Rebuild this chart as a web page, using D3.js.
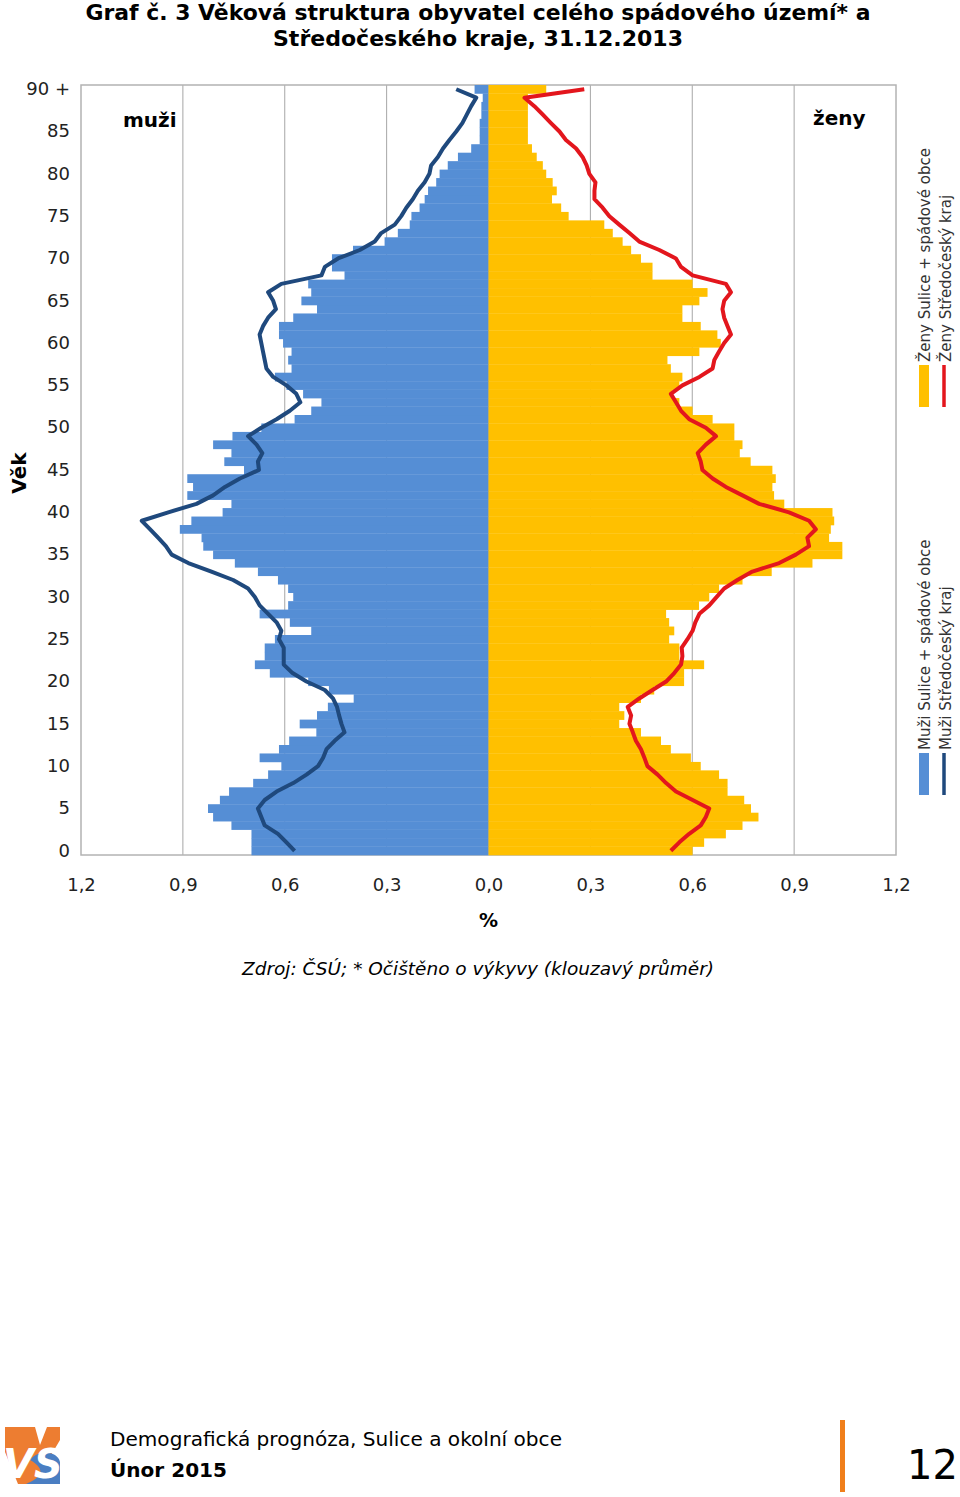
<!DOCTYPE html>
<html>
<head>
<meta charset="utf-8">
<script src="https://cdn.jsdelivr.net/npm/d3@7/dist/d3.min.js"></script>
<style>
  html, body { margin: 0; padding: 0; background: #fff; }
  svg { display: block; }
</style>
</head>
<body>
<div id="chart"></div>
<script>
(function(window, d3){
  'use strict';

  // věk 0 .. 90+ (index = věk)
  var ages = d3.range(0, 91);

  // muži Sulice + spádové obce (%)
  var menBars = [
    0.698, 0.698, 0.698, 0.757, 0.811, 0.826, 0.791, 0.764, 0.693, 0.649,
    0.610, 0.674, 0.617, 0.587, 0.507, 0.556, 0.505, 0.473, 0.397, 0.470,
    0.531, 0.644, 0.688, 0.659, 0.659, 0.629, 0.522, 0.585, 0.674, 0.590,
    0.575, 0.590, 0.620, 0.679, 0.747, 0.811, 0.840, 0.845, 0.909, 0.875,
    0.783, 0.757, 0.887, 0.870, 0.887, 0.720, 0.778, 0.757, 0.811, 0.754,
    0.669, 0.571, 0.522, 0.492, 0.546, 0.595, 0.629, 0.580, 0.590, 0.580,
    0.605, 0.617, 0.617, 0.575, 0.505, 0.551, 0.522, 0.531, 0.424, 0.461,
    0.461, 0.399, 0.306, 0.267, 0.232, 0.227, 0.203, 0.188, 0.178, 0.154,
    0.144, 0.120, 0.090, 0.051, 0.026, 0.026, 0.026, 0.021, 0.021, 0.017,
    0.041
  ];

  // muži Středočeský kraj (%)
  var menLine = [
    0.571, 0.595, 0.620, 0.659, 0.669, 0.679, 0.659, 0.624, 0.575, 0.536,
    0.502, 0.487, 0.477, 0.453, 0.424, 0.433, 0.440, 0.446, 0.458, 0.482,
    0.536, 0.577, 0.603, 0.603, 0.603, 0.617, 0.610, 0.624, 0.649, 0.674,
    0.688, 0.708, 0.752, 0.816, 0.884, 0.933, 0.950, 0.973, 0.997, 1.021,
    0.943, 0.860, 0.811, 0.776, 0.732, 0.676, 0.679, 0.666, 0.683, 0.708,
    0.669, 0.624, 0.585, 0.554, 0.566, 0.595, 0.634, 0.654, 0.659, 0.664,
    0.669, 0.674, 0.664, 0.649, 0.626, 0.634, 0.649, 0.610, 0.492, 0.482,
    0.443, 0.379, 0.335, 0.316, 0.276, 0.257, 0.242, 0.223, 0.208, 0.188,
    0.174, 0.169, 0.149, 0.134, 0.115, 0.095, 0.077, 0.064, 0.051, 0.036,
    0.095
  ];

  // ženy Sulice + spádové obce (%)
  var womenBars = [
    0.601, 0.635, 0.699, 0.748, 0.795, 0.773, 0.753, 0.704, 0.704, 0.679,
    0.625, 0.596, 0.537, 0.508, 0.449, 0.385, 0.400, 0.385, 0.449, 0.488,
    0.576, 0.576, 0.635, 0.562, 0.562, 0.532, 0.547, 0.532, 0.523, 0.620,
    0.650, 0.679, 0.748, 0.834, 0.954, 1.042, 1.042, 1.003, 1.008, 1.018,
    1.013, 0.871, 0.841, 0.836, 0.846, 0.836, 0.772, 0.740, 0.748, 0.724,
    0.724, 0.660, 0.601, 0.562, 0.542, 0.562, 0.571, 0.537, 0.527, 0.621,
    0.684, 0.674, 0.625, 0.571, 0.571, 0.621, 0.645, 0.601, 0.483, 0.483,
    0.449, 0.420, 0.395, 0.366, 0.341, 0.236, 0.214, 0.187, 0.201, 0.189,
    0.170, 0.160, 0.142, 0.128, 0.116, 0.116, 0.116, 0.116, 0.116, 0.116,
    0.170
  ];

  // ženy Středočeský kraj (%)
  var womenLine = [
    0.537, 0.562, 0.591, 0.625, 0.640, 0.650, 0.601, 0.552, 0.523, 0.498,
    0.468, 0.459, 0.449, 0.434, 0.425, 0.415, 0.420, 0.410, 0.444, 0.483,
    0.523, 0.547, 0.567, 0.571, 0.569, 0.586, 0.601, 0.609, 0.621, 0.650,
    0.672, 0.694, 0.733, 0.777, 0.856, 0.905, 0.944, 0.939, 0.964, 0.944,
    0.885, 0.797, 0.748, 0.699, 0.660, 0.630, 0.625, 0.616, 0.640, 0.670,
    0.640, 0.591, 0.567, 0.552, 0.537, 0.571, 0.621, 0.660, 0.665, 0.679,
    0.694, 0.714, 0.704, 0.694, 0.689, 0.694, 0.714, 0.699, 0.601, 0.567,
    0.552, 0.503, 0.444, 0.415, 0.385, 0.356, 0.336, 0.312, 0.312, 0.315,
    0.297, 0.289, 0.277, 0.258, 0.228, 0.209, 0.184, 0.160, 0.135, 0.106,
    0.282
  ];

  var xTicks = [-1.2, -0.9, -0.6, -0.3, 0, 0.3, 0.6, 0.9, 1.2];
  var yTicks = d3.range(0, 91, 5);

  var legendItems = [
    { label: 'Ženy Sulice + spádové obce', type: 'rect', color: '#FFC000', x: 930, y: 407 },
    { label: 'Ženy Středočeský kraj', type: 'line', color: '#E3161D', x: 951, y: 407 },
    { label: 'Muži Sulice + spádové obce', type: 'rect', color: '#558ED5', x: 930, y: 795 },
    { label: 'Muži Středočeský kraj', type: 'line', color: '#1F497D', x: 951, y: 795 }
  ];

  var font = 'DejaVu Sans, Verdana, sans-serif';
  var plot = { left: 81, right: 896, top: 85, bottom: 855 };

  var svg = d3.select('#chart').append('svg')
    .attr('width', 960)
    .attr('height', 1497)
    .style('font-family', font);

  svg.append('rect').attr('width', 960).attr('height', 1497).attr('fill', '#fff');

  // nadpis
  var title = svg.append('g').attr('font-weight', 'bold').attr('text-anchor', 'middle');
  title.append('text').attr('x', 478).attr('y', 20).attr('font-size', 21)
    .attr('textLength', 785).attr('lengthAdjust', 'spacingAndGlyphs')
    .text('Graf č. 3 Věková struktura obyvatel celého spádového území* a');
  title.append('text').attr('x', 478).attr('y', 46).attr('font-size', 21)
    .attr('textLength', 410).attr('lengthAdjust', 'spacingAndGlyphs')
    .text('Středočeského kraje, 31.12.2013');

  var x = d3.scaleLinear().domain([-1.2, 1.2]).range([plot.left, plot.right]);
  var y = d3.scaleBand().domain(ages).range([plot.bottom, plot.top]).padding(0);
  var bw = y.bandwidth();

  // mřížka
  svg.append('g').selectAll('line')
    .data(xTicks.slice(1, -1))
    .enter().append('line')
    .attr('x1', function(d) { return x(d); })
    .attr('x2', function(d) { return x(d); })
    .attr('y1', plot.top)
    .attr('y2', plot.bottom)
    .attr('stroke', '#a6a6a6')
    .attr('stroke-width', 1);

  svg.append('rect')
    .attr('x', plot.left).attr('y', plot.top)
    .attr('width', plot.right - plot.left).attr('height', plot.bottom - plot.top)
    .attr('fill', 'none').attr('stroke', '#b3b3b3').attr('stroke-width', 1.5);

  // sloupce
  svg.append('g').selectAll('rect')
    .data(ages)
    .enter().append('rect')
    .attr('x', function(d) { return x(-menBars[d]); })
    .attr('y', function(d) { return y(d); })
    .attr('width', function(d) { return x(0) - x(-menBars[d]); })
    .attr('height', bw + 0.3)
    .attr('fill', '#558ED5');

  svg.append('g').selectAll('rect')
    .data(ages)
    .enter().append('rect')
    .attr('x', x(0))
    .attr('y', function(d) { return y(d); })
    .attr('width', function(d) { return x(womenBars[d]) - x(0); })
    .attr('height', bw + 0.3)
    .attr('fill', '#FFC000');

  // čáry kraje
  var menPath = d3.line()
    .x(function(d) { return x(-menLine[d]); })
    .y(function(d) { return y(d) + bw / 2; });
  var womenPath = d3.line()
    .x(function(d) { return x(womenLine[d]); })
    .y(function(d) { return y(d) + bw / 2; });

  svg.append('path').datum(ages)
    .attr('d', menPath)
    .attr('fill', 'none').attr('stroke', '#1F497D')
    .attr('stroke-width', 4).attr('stroke-linejoin', 'round');
  svg.append('path').datum(ages)
    .attr('d', womenPath)
    .attr('fill', 'none').attr('stroke', '#E3161D')
    .attr('stroke-width', 4).attr('stroke-linejoin', 'round');

  // osy
  var xAxis = d3.axisBottom(x)
    .tickValues(xTicks)
    .tickSize(0)
    .tickPadding(23)
    .tickFormat(function(d) { return Math.abs(d).toFixed(1).replace('.', ','); });
  var gx = svg.append('g').attr('transform', 'translate(0,' + plot.bottom + ')').call(xAxis);
  gx.select('.domain').remove();
  gx.selectAll('text').attr('font-size', 18).attr('font-family', font).attr('fill', '#222');

  var yAxis = d3.axisLeft(y)
    .tickValues(yTicks)
    .tickSize(0)
    .tickPadding(11)
    .tickFormat(function(d) { return d === 90 ? '90 +' : d; });
  var gy = svg.append('g').attr('transform', 'translate(' + plot.left + ',0)').call(yAxis);
  gy.select('.domain').remove();
  gy.selectAll('text').attr('font-size', 18).attr('font-family', font).attr('fill', '#222');

  svg.append('text')
    .attr('transform', 'translate(26,473) rotate(-90)')
    .attr('text-anchor', 'middle')
    .attr('font-size', 20).attr('font-weight', 'bold')
    .text('Věk');

  svg.append('text')
    .attr('x', x(0)).attr('y', 927)
    .attr('text-anchor', 'middle')
    .attr('font-size', 19).attr('font-weight', 'bold')
    .text('%');

  svg.append('text').attr('x', 123).attr('y', 127)
    .attr('font-size', 20).attr('font-weight', 'bold').text('muži');
  svg.append('text').attr('x', 813).attr('y', 125)
    .attr('font-size', 20).attr('font-weight', 'bold').text('ženy');

  // legenda
  var legend = svg.append('g');
  legendItems.forEach(function(item) {
    if (item.type === 'rect') {
      legend.append('rect')
        .attr('x', item.x - 11).attr('y', item.y - 42)
        .attr('width', 10).attr('height', 42)
        .attr('fill', item.color);
    } else {
      legend.append('line')
        .attr('x1', item.x - 7).attr('x2', item.x - 7)
        .attr('y1', item.y - 42).attr('y2', item.y)
        .attr('stroke', item.color).attr('stroke-width', 3.5);
    }
    legend.append('text')
      .attr('transform', 'translate(' + item.x + ',' + (item.y - 45) + ') rotate(-90)')
      .attr('font-size', 15)
      .attr('fill', '#333')
      .text(item.label);
  });

  // zdroj
  svg.append('text')
    .attr('x', 478).attr('y', 975)
    .attr('text-anchor', 'middle')
    .attr('font-size', 17).attr('font-style', 'italic')
    .attr('textLength', 472).attr('lengthAdjust', 'spacingAndGlyphs')
    .text('Zdroj: ČSÚ; * Očištěno o výkyvy (klouzavý průměr)');

  // zápatí
  var foot = svg.append('g');
  foot.append('path')
    .attr('d', 'M5,1427 L35,1427 L40,1445 L47,1427 L60,1427 L60,1440 L34,1484 L18,1484 L5,1452 Z')
    .attr('fill', '#ED7D31');
  foot.append('path')
    .attr('d', 'M30,1460 C40,1448 58,1452 60,1462 L60,1484 L26,1484 C40,1478 48,1470 30,1460 Z')
    .attr('fill', '#4A7EC2');
  foot.append('text').attr('x', 33).attr('y', 1478)
    .attr('font-size', 40).attr('font-weight', 'bold').attr('fill', '#fff')
    .attr('text-anchor', 'middle').attr('font-style', 'italic')
    .text('VS');

  foot.append('text').attr('x', 110).attr('y', 1446)
    .attr('font-size', 20)
    .attr('textLength', 452).attr('lengthAdjust', 'spacingAndGlyphs')
    .text('Demografická prognóza, Sulice a okolní obce');
  foot.append('text').attr('x', 110).attr('y', 1477)
    .attr('font-size', 20).attr('font-weight', 'bold')
    .attr('textLength', 117).attr('lengthAdjust', 'spacingAndGlyphs')
    .text('Únor 2015');
  foot.append('rect').attr('x', 840).attr('y', 1420).attr('width', 5).attr('height', 72)
    .attr('fill', '#F07F1B');
  foot.append('text').attr('x', 958).attr('y', 1479)
    .attr('text-anchor', 'end').attr('font-size', 40)
    .text('12');

})(window, window.d3);
</script>
</body>
</html>
